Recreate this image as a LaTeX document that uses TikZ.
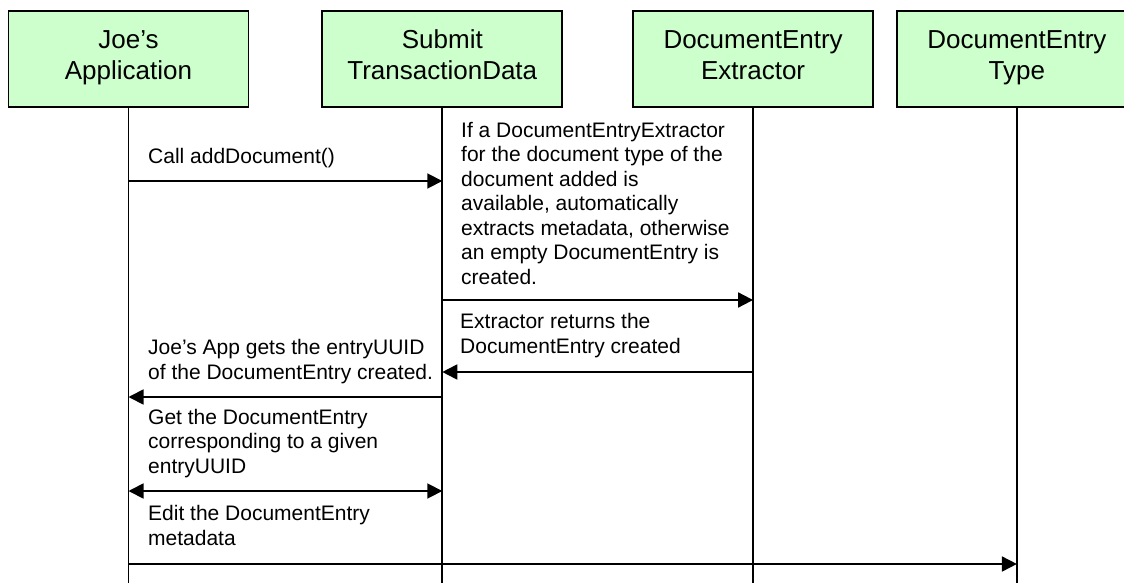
\documentclass[tikz,border=0pt]{standalone}
\usepackage{fontspec}
\setmainfont{Liberation Sans}
\usepackage{tikz}
\usetikzlibrary{arrows.meta, positioning}
\usepackage{xcolor}
\definecolor{clrActor}{HTML}{CCFFCC}
\definecolor{clrActorBd}{HTML}{000000}

\begin{document}
\begin{tikzpicture}[x=1pt, y=-1pt, node distance=70pt,
    >={Triangle[length=15pt, width=15pt]},
    actor/.style={rectangle, draw=clrActorBd, fill=clrActor, line width=1.8pt,
      minimum width=240pt, minimum height=96pt, inner sep=0pt,
      text height=52pt, text depth=10pt,
      align=center, font=\fontsize{26}{31}\selectfont},
    life/.style={line width=1.8pt},
    msg/.style={line width=1.8pt},
    note/.style={anchor=base west, align=left, inner sep=0pt,
      font=\fontsize{21}{24.5}\selectfont}]
  \clip (0,0) rectangle (1124,583);

  % participants
  \node[actor] (app) at (128.5,59) {Joe’s\\Application};
  \node[actor, right=72pt of app] (submit) {Submit\\TransactionData};
  \node[actor, right=69pt of submit] (extractor) {DocumentEntry\\Extractor};
  \node[actor, right=22pt of extractor] (type) {DocumentEntry\\Type};

  % lifelines
  \coordinate (bottom) at (0,590);
  \foreach \p in {app, submit, extractor, type}
    \draw[life] (\p) -- (\p |- bottom);

  % message rows
  \coordinate (r1) at (0,181);
  \coordinate (r2) at (0,300);
  \coordinate (r3) at (0,372);
  \coordinate (r4) at (0,397);
  \coordinate (r5) at (0,491);
  \coordinate (r6) at (0,564);

  \draw[msg, ->] (app |- r1) -- (submit |- r1);
  \draw[msg, ->] (submit |- r2) -- (extractor |- r2);
  \draw[msg, ->] (extractor |- r3) -- (submit |- r3);
  \draw[msg, ->] (submit |- r4) -- (app |- r4);
  \draw[msg, <->] (app |- r5) -- (submit |- r5);
  \draw[msg, ->] (app |- r6) -- (type |- r6);

  % labels (placed at the baseline of their last line)
  \node[note] (callTxt) at (148,163) {Call addDocument()};
  \node[note] (ifTxt) at (461,284) {If a DocumentEntryExtractor\\for the document type of the\\document added is\\available, automatically\\extracts metadata, otherwise\\an empty DocumentEntry is\\created.};
  \node[note] (retTxt) at (460,353) {Extractor returns the\\DocumentEntry created};
  \node[note] (joeTxt) at (148,379) {Joe’s App gets the entryUUID\\of the DocumentEntry created.};
  \node[note] (getTxt) at (148,473) {Get the DocumentEntry\\corresponding to a given\\entryUUID};
  \node[note] (editTxt) at (148,545) {Edit the DocumentEntry\\metadata};
\end{tikzpicture}
\end{document}
